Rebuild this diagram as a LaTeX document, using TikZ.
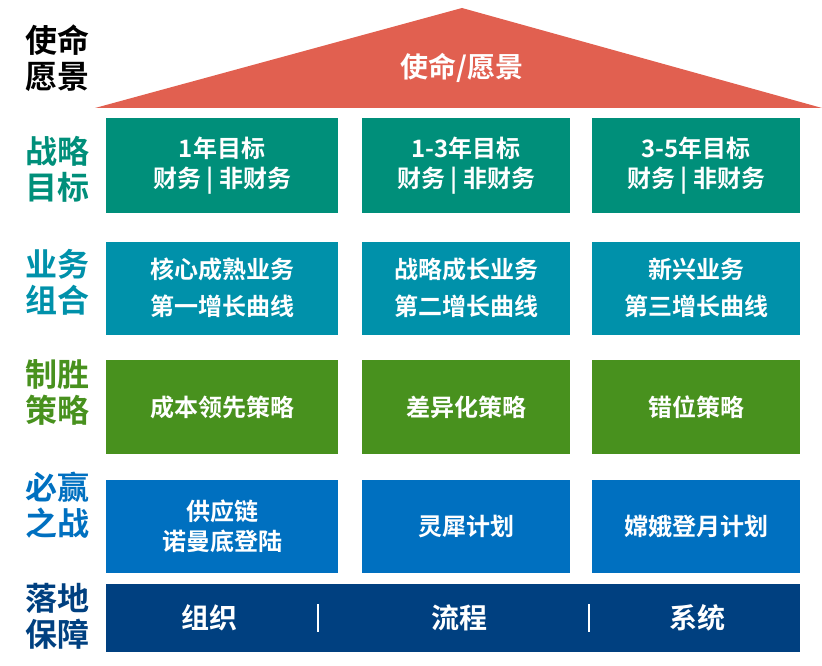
\documentclass[tikz,border=0pt]{standalone}
\usepackage{fontspec}
\setmainfont{Noto Sans CJK SC}[BoldFont={Noto Sans CJK SC Bold}]
\definecolor{roofred}{RGB}{225,96,80}
\definecolor{teal1}{RGB}{0,143,122}
\definecolor{teal2}{RGB}{0,145,170}
\definecolor{green3}{RGB}{72,145,30}
\definecolor{blue4}{RGB}{0,112,192}
\definecolor{navy5}{RGB}{0,64,128}
\begin{document}
\begin{tikzpicture}[x=1pt,y=-1pt,
  cell/.style={inner sep=0pt, outer sep=0pt, text=white, font=\fontsize{24}{30}\selectfont\bfseries, align=center, minimum height=#1},
  lbl/.style={font=\fontsize{32}{36}\selectfont\bfseries, align=center, inner sep=0pt},
  cellw/.style={minimum width=#1},
  base/.style={text=white, font=\fontsize{28}{30}\selectfont\bfseries, inner sep=0pt}
]
\useasboundingbox (0,0) rectangle (822,666);
% roof
\coordinate (rl) at (95,108);
\coordinate (rt) at (462,8);
\coordinate (rr) at (822,108);
\fill[roofred] (rl) -- (rt) -- (rr) -- cycle;
\node[lbl, text=white, font=\fontsize{28}{30}\selectfont\bfseries] (roof) at (462,68) {使命/愿景};
% left labels
\node[lbl, text=black] (l0) at (57,58) {使命\\愿景};
\node[lbl, text=teal1] (l1) at (57,169) {战略\\目标};
\node[lbl, text=teal2] (l2) at (57,282) {业务\\组合};
\node[lbl, text=green3] (l3) at (57,392) {制胜\\策略};
\node[lbl, text=blue4] (l4) at (57,505) {必赢\\之战};
\node[lbl, text=navy5] (l5) at (57,616) {落地\\保障};
% row 1
\node[cell=95pt, cellw=232pt, fill=teal1, font=\fontsize{24}{30}\selectfont\bfseries] (a1) at (222,165.5) {1年目标\\财务 | 非财务};
\node[cell=95pt, cellw=208pt, fill=teal1, font=\fontsize{24}{30}\selectfont\bfseries] (a2) at (466,165.5) {1-3年目标\\财务 | 非财务};
\node[cell=95pt, cellw=208pt, fill=teal1, font=\fontsize{24}{30}\selectfont\bfseries] (a3) at (696,165.5) {3-5年目标\\财务 | 非财务};
% row 2
\node[cell=93pt, cellw=232pt, fill=teal2, font=\fontsize{24}{37}\selectfont\bfseries] (b1) at (222,288) {核心成熟业务\\第一增长曲线};
\node[cell=93pt, cellw=208pt, fill=teal2, font=\fontsize{24}{37}\selectfont\bfseries] (b2) at (466,288) {战略成长业务\\第二增长曲线};
\node[cell=93pt, cellw=208pt, fill=teal2, font=\fontsize{24}{37}\selectfont\bfseries] (b3) at (696,288) {新兴业务\\第三增长曲线};
% row 3
\node[cell=94pt, cellw=232pt, fill=green3] (c1) at (222,407) {成本领先策略};
\node[cell=94pt, cellw=208pt, fill=green3] (c2) at (466,407) {差异化策略};
\node[cell=94pt, cellw=208pt, fill=green3] (c3) at (696,407) {错位策略};
% row 4
\node[cell=93pt, cellw=232pt, fill=blue4, font=\fontsize{24}{30}\selectfont\bfseries] (d1) at (222,526.5) {供应链\\诺曼底登陆};
\node[cell=93pt, cellw=208pt, fill=blue4] (d2) at (466,526.5) {灵犀计划};
\node[cell=93pt, cellw=208pt, fill=blue4] (d3) at (696,526.5) {嫦娥登月计划};
% row 5
\node[cell=68pt, cellw=694pt, fill=navy5] (e) at (453,618) {};
\node[base] (e1) at (209,618) {组织};
\node[base] (e2) at (459,618) {流程};
\node[base] (e3) at (697,618) {系统};
\draw[white, line width=2.5pt] (318,604) -- (318,632);
\draw[white, line width=2.5pt] (589,604) -- (589,632);
\end{tikzpicture}
\end{document}
